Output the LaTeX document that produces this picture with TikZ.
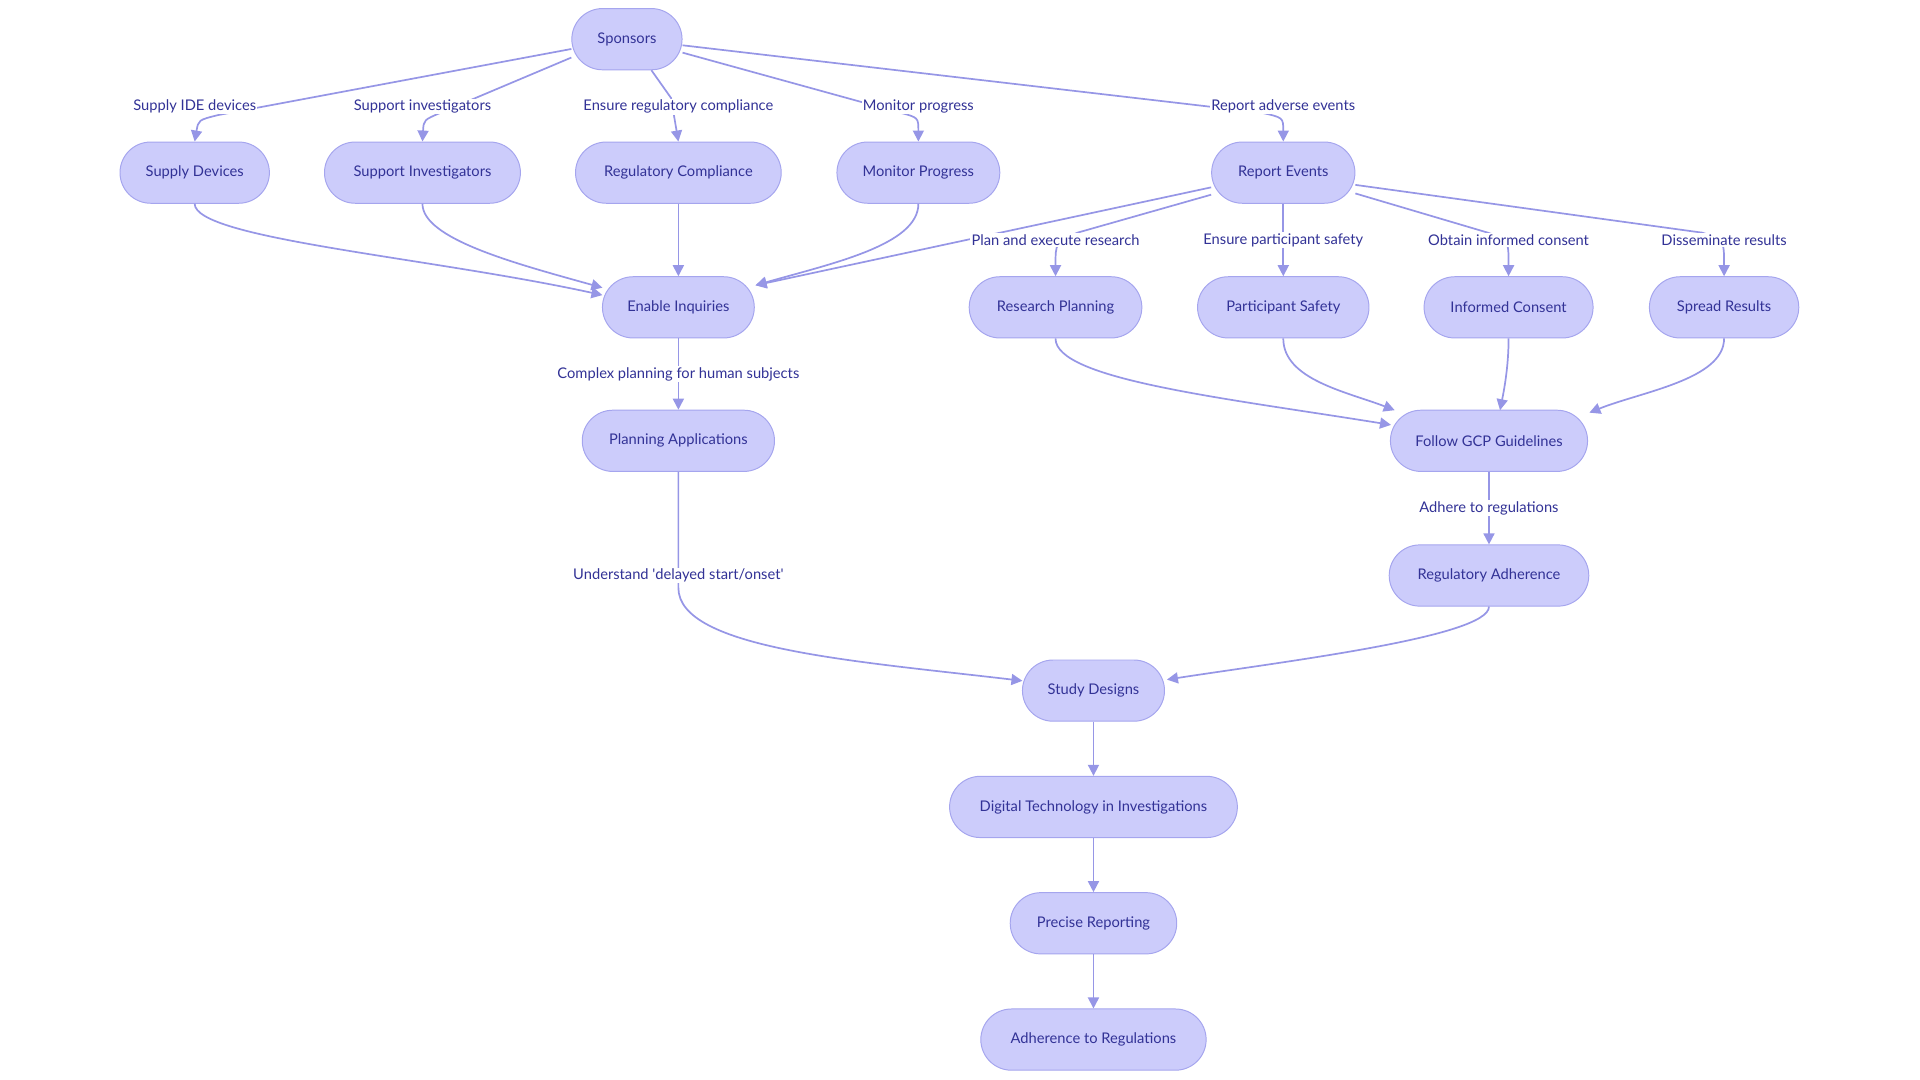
\documentclass[tikz,border=0pt]{standalone}
\usepackage{fontspec}
\setmainfont{Lato}
\usetikzlibrary{arrows.meta}
\definecolor{nfill}{RGB}{204,204,251}
\definecolor{ndraw}{RGB}{165,165,238}
\definecolor{ntext}{RGB}{50,50,150}
\definecolor{edge}{RGB}{150,150,230}
\begin{document}
\begin{tikzpicture}[x=1pt,y=-1pt,
  n/.style={draw=ndraw,fill=nfill,rounded corners=25pt,minimum height=50pt,text=ntext,font=\fontsize{12}{14}\selectfont,line width=0.8pt,inner sep=0pt},
  e/.style={draw=edge,line width=1.4pt,-{Triangle[length=9pt,width=9pt]}},
  l/.style={fill=white,text=ntext,font=\fontsize{12}{14}\selectfont,inner sep=1pt}]
\useasboundingbox (0,0) rectangle (1568,882);
\node[n,minimum width=90pt] (sp) at (512,32) {Sponsors};
\node[n,minimum width=122pt] (sd) at (159,141) {Supply Devices};
\node[n,minimum width=160pt] (si) at (345,141) {Support Investigators};
\node[n,minimum width=168pt] (rc) at (554,141) {Regulatory Compliance};
\node[n,minimum width=133pt] (mp) at (750,141) {Monitor Progress};
\node[n,minimum width=117pt] (re) at (1048,141) {Report Events};
\node[n,minimum width=124pt] (ei) at (554,251) {Enable Inquiries};
\node[n,minimum width=141pt] (rp) at (862,251) {Research Planning};
\node[n,minimum width=140pt] (ps) at (1048,251) {Participant Safety};
\node[n,minimum width=138pt] (ic) at (1232,251) {Informed Consent};
\node[n,minimum width=122pt] (sr) at (1408,251) {Spread Results};
\node[n,minimum width=157pt] (pa) at (554,360) {Planning Applications};
\node[n,minimum width=161pt] (gcp) at (1216,360) {Follow GCP Guidelines};
\node[n,minimum width=163pt] (ra) at (1216,470) {Regulatory Adherence};
\node[n,minimum width=116pt] (sdz) at (893,564) {Study Designs};
\node[n,minimum width=235pt] (dt) at (893,659) {Digital Technology in Investigations};
\node[n,minimum width=136pt] (pr) at (893,754) {Precise Reporting};
\node[n,minimum width=184pt] (ar) at (893,849) {Adherence to Regulations};
% edges from sponsors
\draw[e] (sp.west) ++(0,8) -- (178,94) .. controls (162,98) .. (sd.north);
\draw[e] (sp.west) ++(0,15) -- (360,92) .. controls (346,98) .. (si.north);
\draw[e] (sp.south) ++(20,0) -- (548,80) -- (rc.north);
\draw[e] (sp.east) ++(0,11) -- (735,92) .. controls (750,96) .. (mp.north);
\draw[e] (sp.east) ++(0,5) -- (1030,92) .. controls (1048,96) .. (re.north);
\node[l] at (159,87) {Supply IDE devices};
\node[l] at (345,87) {Support investigators};
\node[l] at (554,87) {Ensure regulatory compliance};
\node[l] at (750,87) {Monitor progress};
\node[l] at (1048,87) {Report adverse events};
% to enable inquiries
\draw[e] (sd.south) .. controls (159,195) and (350,210) .. (492,241);
\draw[e] (si.south) .. controls (345,195) and (420,215) .. (492,235);
\draw[e] (rc) -- (ei);
\draw[e] (mp.south) .. controls (750,200) and (680,215) .. (617,233);
\draw[e] (re.west) ++(0,12) -- (617,233);
% from report events
\draw[e] (re.west) ++(0,18) -- (880,190) .. controls (862,198) .. (rp.north);
\draw[e] (re) -- (ps);
\draw[e] (re.east) ++(0,17) -- (1215,190) .. controls (1232,196) .. (ic.north);
\draw[e] (re.east) ++(0,10) -- (1390,190) .. controls (1408,196) .. (sr.north);
\node[l] at (862,196) {Plan and execute research};
\node[l] at (1048,196) {Ensure participant safety};
\node[l] at (1232,196) {Obtain informed consent};
\node[l] at (1408,196) {Disseminate results};
\draw[e] (ei) -- node[l]{Complex planning for human subjects} (pa);
\draw[e] (rp.south) .. controls (862,310) and (1000,325) .. (1136,347);
\draw[e] (ps.south) .. controls (1048,310) and (1100,320) .. (1139,335);
\draw[e] (ic.south) .. controls (1232,300) and (1228,320) .. (1225,335);
\draw[e] (sr.south) .. controls (1408,310) and (1340,320) .. (1298,337);
\draw[e] (gcp) -- node[l]{Adhere to regulations} (ra);
\draw[e] (pa.south) -- (554,480) .. controls (554,530) and (700,540) .. (835,556);
\node[l] at (554,470) {Understand \textquotesingle delayed start/onset\textquotesingle};
\draw[e] (ra.south) .. controls (1216,520) and (1050,540) .. (953,555);
\draw[e] (sdz) -- (dt);
\draw[e] (dt) -- (pr);
\draw[e] (pr) -- (ar);
\end{tikzpicture}
\end{document}
